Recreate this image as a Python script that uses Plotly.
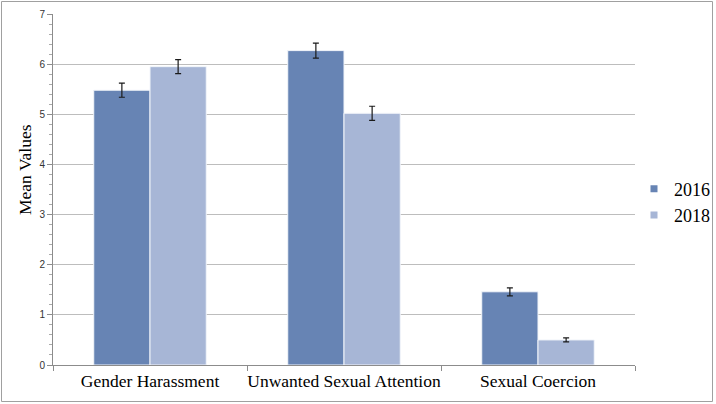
import plotly.graph_objects as go

categories = ["Gender Harassment", "Unwanted Sexual Attention", "Sexual Coercion"]
series_names = ["2016", "2018"]
vals_2016 = [5.48, 6.27, 1.46]
err_2016 = [0.14, 0.15, 0.08]
vals_2018 = [5.95, 5.02, 0.50]
err_2018 = [0.14, 0.14, 0.04]
colors = ["#6784B4", "#A7B6D6"]
y_title = "Mean Values"

fig = go.Figure()
for name, vals, errs, col in zip(series_names, [vals_2016, vals_2018], [err_2016, err_2018], colors):
    fig.add_trace(go.Bar(name=name, x=categories, y=vals, showlegend=False,
                         error_y=dict(type="data", array=errs, color="#1a1a1a", thickness=1.2, width=3),
                         marker=dict(color=col, line=dict(color="#F2F5FA", width=1))))
    # legend proxy with small square marker
    fig.add_trace(go.Scatter(name=name, x=[None], y=[None], mode="markers",
                             marker=dict(symbol="square", size=7, color=col), showlegend=True))

W, H = 716, 404
L, R, T, B = 53, 81, 14, 39
pw, ph = W - L - R, H - T - B

fig.update_layout(
    width=W, height=H,
    margin=dict(l=L, r=R, t=T, b=B, autoexpand=False),
    paper_bgcolor="white", plot_bgcolor="white",
    barmode="group", bargap=0.42, bargroupgap=0,
    font=dict(family="Liberation Serif", color="#000"),
    legend=dict(xref="container", yref="container", x=634 / W, y=1 - 202 / H,
                xanchor="left", yanchor="middle",
                font=dict(family="Liberation Serif", size=18), tracegroupgap=0,
                itemwidth=30, bgcolor="rgba(0,0,0,0)"),
    showlegend=True,
    xaxis=dict(showline=True, linecolor="#8c8c8c", linewidth=1, tickangle=0,
               ticks="outside", tickson="boundaries", ticklen=5, tickcolor="#8c8c8c",
               tickfont=dict(family="Liberation Serif", size=17.5, color="#000")),
    yaxis=dict(range=[0, 7], dtick=1, showline=True, linecolor="#8c8c8c", linewidth=1,
               ticks="outside", ticklen=5, tickcolor="#8c8c8c",
               showgrid=True, gridcolor="#BDBDBD", gridwidth=1,
               minor=dict(dtick=0.2, ticks="outside", ticklen=3, tickcolor="#aaaaaa", showgrid=False),
               tickfont=dict(family="Liberation Sans", size=10, color="#333")),
)

fig.add_annotation(text=y_title, textangle=-90, xref="paper", yref="paper",
                   x=(25 - L) / pw, y=(H - B - 170) / ph, xanchor="center", yanchor="middle",
                   showarrow=False, font=dict(family="Liberation Serif", size=17.5, color="#000"))

fig.add_shape(type="rect", xref="paper", yref="paper",
              x0=(1.5 - L) / pw, x1=(712.5 - L) / pw,
              y0=(H - B - 401.5) / ph, y1=(H - B - 1.5) / ph,
              line=dict(color="#A0A0A0", width=1), layer="below")

fig.write_html("out.html", config={"displayModeBar": False},
               post_script="document.body.style.margin='0';document.body.style.padding='0';")
